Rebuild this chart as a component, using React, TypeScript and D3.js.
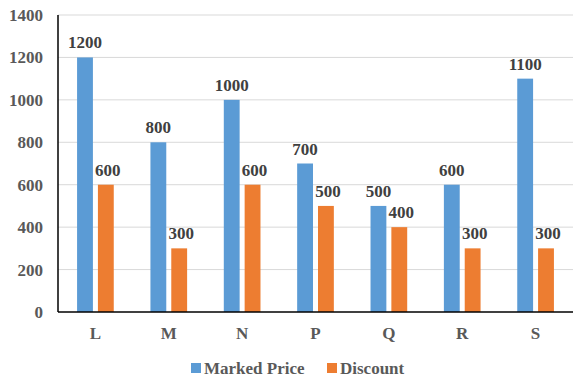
import React, { useRef, useEffect } from "react";
import { select, scaleBand, scaleLinear, range } from "d3";

const categories = ["L", "M", "N", "P", "Q", "R", "S"];
const markedPrice = [1200, 800, 1000, 700, 500, 600, 1100];
const discount = [600, 300, 600, 500, 400, 300, 300];
const yTicks = [0, 200, 400, 600, 800, 1000, 1200, 1400];
const seriesNames = ["Marked Price", "Discount"];
const colors = ["#5B9BD5", "#ED7D31"];

const W = 581;
const H = 386;
const margin = { top: 15, right: 8, bottom: 74, left: 58 };
const FONT = "'Liberation Serif', 'Times New Roman', Times, serif";

function App() {
    const svgRef = useRef<SVGSVGElement>(null);

    useEffect(() => {
        const svg = select(svgRef.current);
        svg.selectAll("*").remove();

        const x0 = scaleBand()
            .domain(categories)
            .range([margin.left, W - margin.right])
            .paddingInner(0.5)
            .paddingOuter(0.26);

        const x1 = scaleBand()
            .domain(seriesNames)
            .range([0, x0.bandwidth()])
            .paddingInner(0.24)
            .paddingOuter(0);

        const y = scaleLinear()
            .domain([0, 1400])
            .range([H - margin.bottom, margin.top]);

        // grid
        svg.selectAll(".grid")
            .data(yTicks.filter(d => d > 0))
            .join("line")
            .attr("x1", margin.left)
            .attr("x2", W - margin.right)
            .attr("y1", d => y(d))
            .attr("y2", d => y(d))
            .attr("stroke", "#d9d9d9")
            .attr("stroke-width", 1);

        // y tick labels
        svg.selectAll(".ytick")
            .data(yTicks)
            .join("text")
            .attr("x", 43)
            .attr("y", d => y(d) + 6)
            .attr("text-anchor", "end")
            .style("font-family", FONT)
            .attr("font-weight", "bold")
            .attr("font-size", 17)
            .attr("fill", "#595959")
            .text(d => d);

        const rows = categories.map((c, i) => ({ c, vals: [markedPrice[i], discount[i]] }));

        const groups = svg.selectAll(".grp")
            .data(rows)
            .join("g")
            .attr("transform", d => `translate(${x0(d.c)},0)`);

        groups.selectAll("rect")
            .data(d => d.vals.map((v, k) => ({ v, k })))
            .join("rect")
            .attr("x", d => x1(seriesNames[d.k])!)
            .attr("width", x1.bandwidth())
            .attr("y", d => y(d.v))
            .attr("height", d => y(0) - y(d.v))
            .attr("fill", d => colors[d.k]);

        groups.selectAll("text")
            .data(d => d.vals.map((v, k) => ({ v, k })))
            .join("text")
            .attr("x", d => x1(seriesNames[d.k])! + x1.bandwidth() / 2 + (d.k === 1 ? 2 : 0))
            .attr("y", d => y(d.v) - 9)
            .attr("text-anchor", "middle")
            .style("font-family", FONT)
            .attr("font-weight", "bold")
            .attr("font-size", 17)
            .attr("fill", "#404040")
            .text(d => d.v);

        // axes lines
        svg.append("line")
            .attr("x1", margin.left).attr("x2", margin.left)
            .attr("y1", margin.top).attr("y2", y(0))
            .attr("stroke", "#000").attr("stroke-width", 1.5);
        svg.append("line")
            .attr("x1", margin.left).attr("x2", W - margin.right)
            .attr("y1", y(0)).attr("y2", y(0))
            .attr("stroke", "#000").attr("stroke-width", 1.5);

        // x labels
        svg.selectAll(".xlab")
            .data(categories)
            .join("text")
            .attr("x", d => x0(d)! + x0.bandwidth() / 2)
            .attr("y", 339)
            .attr("text-anchor", "middle")
            .style("font-family", FONT)
            .attr("font-weight", "bold")
            .attr("font-size", 17)
            .attr("fill", "#595959")
            .text(d => d);

        // legend
        const legendX = [191, 327];
        const legend = svg.selectAll(".leg")
            .data(range(seriesNames.length))
            .join("g")
            .attr("transform", i => `translate(${legendX[i]},363)`);
        legend.append("rect")
            .attr("width", 10).attr("height", 10)
            .attr("fill", i => colors[i]);
        legend.append("text")
            .attr("x", 13)
            .attr("y", 11)
            .style("font-family", FONT)
            .attr("font-weight", "bold")
            .attr("font-size", 17)
            .attr("fill", "#595959")
            .text(i => seriesNames[i]);
    }, []);

    return (
        <svg ref={svgRef} width={W} height={H} style={{ position: "absolute", left: 0, top: 0, background: "#fff" }}></svg>
    );
}

export default App;
